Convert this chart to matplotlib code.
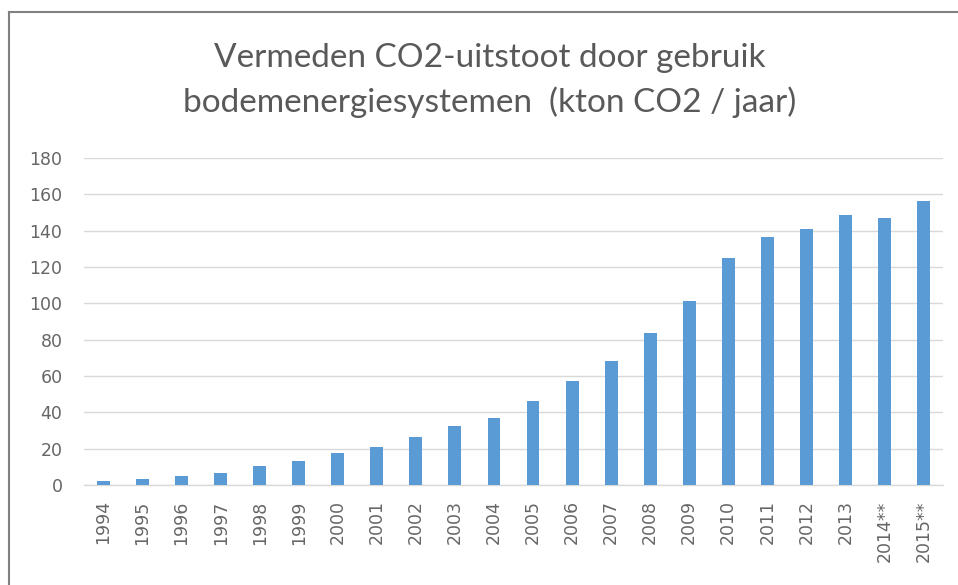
import matplotlib
matplotlib.use("Agg")
import matplotlib.pyplot as plt
from matplotlib.lines import Line2D

years = ["1994", "1995", "1996", "1997", "1998", "1999", "2000", "2001", "2002", "2003",
         "2004", "2005", "2006", "2007", "2008", "2009", "2010", "2011", "2012", "2013",
         "2014**", "2015**"]
values = [2.2, 3.3, 5.0, 6.7, 10.2, 13.0, 17.4, 20.9, 26.2, 32.5,
          36.9, 46.0, 57.5, 68.2, 83.9, 101.5, 124.7, 136.3, 140.7, 148.6,
          146.8, 156.5]
yticks = [0, 20, 40, 60, 80, 100, 120, 140, 160, 180]
title_line1 = "Vermeden CO2-uitstoot door gebruik"
title_line2 = "bodemenergiesystemen  (kton CO2 / jaar)"

plt.rcParams['font.family'] = ['DejaVu Sans']
W, H = 958, 585
fig = plt.figure(figsize=(W / 100, H / 100), dpi=100)
fig.patch.set_facecolor("white")

left, right, top, bottom = 84, 943, 158, 485
ax = fig.add_axes([left / W, 1 - bottom / H, (right - left) / W, (bottom - top) / H])

x = list(range(len(years)))
ax.bar(x, values, width=0.33, color="#5B9BD5", zorder=3)
ax.set_xlim(-0.5, len(years) - 0.5)
ax.set_ylim(0, 180)
ax.set_yticks(yticks)
ax.set_xticks(x)
ax.set_xticklabels(years, rotation=90)
ax.grid(axis="y", color="#d9d9d9", linewidth=1.0, zorder=0)
ax.set_axisbelow(True)
for s in ["top", "right", "left"]:
    ax.spines[s].set_visible(False)
ax.spines["bottom"].set_color("#d9d9d9")
ax.spines["bottom"].set_linewidth(1.0)
ax.tick_params(axis="both", length=0, colors="#666666", labelsize=12.5)
ax.tick_params(axis="y", pad=15.5)
ax.tick_params(axis="x", pad=11)

cx = 0.511
fig.text(cx, 1 - 66.7 / H, title_line1, ha="center", va="baseline",
         fontsize=24, color="#595959", family=['Lato', 'DejaVu Sans'])
fig.text(cx, 1 - 111.7 / H, title_line2, ha="center", va="baseline",
         fontsize=24, color="#595959", family=['Lato', 'DejaVu Sans'])

# chart border (left and top visible)
fig.add_artist(Line2D([9 / W, 9 / W], [0, 1 - 12 / H], color="#808080", linewidth=1.5,
                      transform=fig.transFigure))
fig.add_artist(Line2D([9 / W, 1], [1 - 12 / H, 1 - 12 / H], color="#808080", linewidth=1.5,
                      transform=fig.transFigure))

fig.savefig("out.png", dpi=100, facecolor="white")
